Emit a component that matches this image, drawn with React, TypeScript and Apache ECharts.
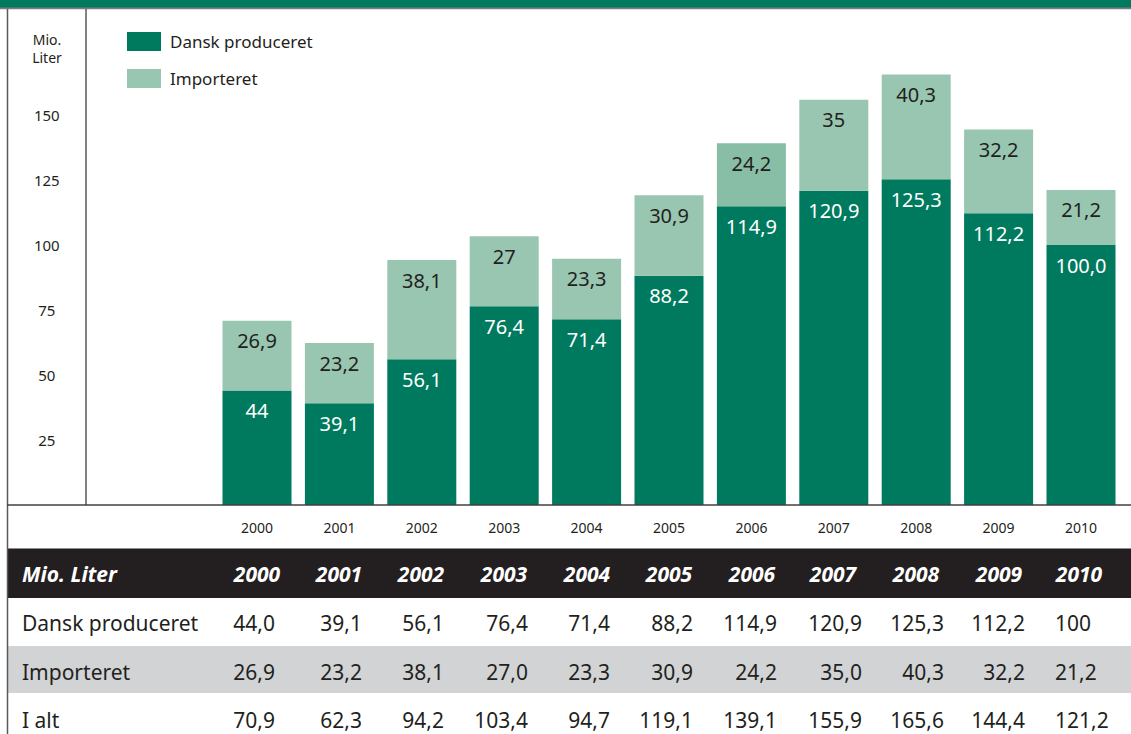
import React, { useEffect, useRef } from "react";
import * as echarts from "echarts";

const years = ["2000", "2001", "2002", "2003", "2004", "2005", "2006", "2007", "2008", "2009", "2010"];
const danskValues = [44, 39.1, 56.1, 76.4, 71.4, 88.2, 114.9, 120.9, 125.3, 112.2, 100];
const importValues = [26.9, 23.2, 38.1, 27, 23.3, 30.9, 24.2, 35, 40.3, 32.2, 21.2];
const danskLabels = ["44", "39,1", "56,1", "76,4", "71,4", "88,2", "114,9", "120,9", "125,3", "112,2", "100,0"];
const importLabels = ["26,9", "23,2", "38,1", "27", "23,3", "30,9", "24,2", "35", "40,3", "32,2", "21,2"];

const tableTitle = "Mio. Liter";
const rowNames = ["Dansk produceret", "Importeret", "I alt"];
const tableDansk = ["44,0", "39,1", "56,1", "76,4", "71,4", "88,2", "114,9", "120,9", "125,3", "112,2", "100"];
const tableImport = ["26,9", "23,2", "38,1", "27,0", "23,3", "30,9", "24,2", "35,0", "40,3", "32,2", "21,2"];
const tableTotal = ["70,9", "62,3", "94,2", "103,4", "94,7", "119,1", "139,1", "155,9", "165,6", "144,4", "121,2"];

// layout constants
const headerCenters = [257, 339, 421, 504, 587, 669, 752, 833, 916, 999, 1079];
const valueRight = [275, 362, 444, 528, 610, 693, 777, 862, 944, 1025];
const lastColLeft = 1055;
const rowY = [623, 672, 720];

const DARK = "#007a5e";
const LIGHT = "#99c6b1";
const LIGHT2 = "#87bea5";
const INK = "#231f20";
const FONT = "Noto Sans";

function txt(x: number, y: number, text: string, opts: any = {}) {
  const align = opts.align || "left";
  return {
    type: "text",
    x,
    y,
    z: 20,
    style: {
      text,
      fill: opts.fill || INK,
      fontSize: opts.fontSize || 21,
      fontFamily: FONT,
      fontWeight: opts.fontWeight || "normal",
      fontStyle: opts.fontStyle || "normal",
      align,
      textAlign: align,
      verticalAlign: "middle",
      textVerticalAlign: "middle",
      lineHeight: opts.lineHeight,
    },
  };
}

export default function App() {
  const ref = useRef<HTMLDivElement>(null);
  useEffect(() => {
    document.body.style.margin = "0";
    if (!ref.current) return;
    const chart = echarts.init(ref.current, undefined, { renderer: "svg" });

    const graphics: any[] = [
      { type: "rect", z: 5, shape: { x: 0, y: 0, width: 1131, height: 7.5 }, style: { fill: DARK } },
      { type: "rect", z: 5, shape: { x: 0, y: 7.5, width: 1131, height: 1.3 }, style: { fill: "#1f2e29" } },
      { type: "rect", z: 5, shape: { x: 0, y: 8.8, width: 1131, height: 1 }, style: { fill: "#d4d6d5" } },
      // table header and grey row
      { type: "rect", z: 5, shape: { x: 8, y: 548, width: 1123, height: 1.2 }, style: { fill: "#8a8c8e" } },
      { type: "rect", z: 5, shape: { x: 8, y: 549, width: 1123, height: 49 }, style: { fill: "#231f20" } },
      { type: "rect", z: 5, shape: { x: 8, y: 646, width: 1123, height: 47 }, style: { fill: "#d1d3d4" } },
      // frame lines
      { type: "line", z: 10, shape: { x1: 7.5, y1: 9, x2: 7.5, y2: 734 }, style: { stroke: "#58595b", lineWidth: 1.5 } },
      { type: "line", z: 10, shape: { x1: 86, y1: 9, x2: 86, y2: 505 }, style: { stroke: "#58595b", lineWidth: 1.5 } },
      { type: "line", z: 10, shape: { x1: 7, y1: 505, x2: 1131, y2: 505 }, style: { stroke: "#404142", lineWidth: 1.5 } },
      // y axis title
      txt(47, 39, "Mio.", { fontSize: 14, align: "center", lineHeight: 15 }),
      txt(47, 57, "Liter", { fontSize: 14, align: "center", lineHeight: 15 }),
      // table header
      txt(22, 574, tableTitle, { fill: "#ffffff", fontWeight: "bold", fontStyle: "italic", fontSize: 21 }),
    ];
    years.forEach((y, i) => {
      graphics.push(txt(headerCenters[i], 574, y, { fill: "#ffffff", fontWeight: "bold", fontStyle: "italic", fontSize: 21, align: "center" }));
    });
    const rows = [tableDansk, tableImport, tableTotal];
    rows.forEach((row, r) => {
      graphics.push(txt(22, rowY[r], rowNames[r], { fontSize: 21 }));
      row.forEach((v, i) => {
        if (i < valueRight.length) {
          graphics.push(txt(valueRight[i], rowY[r], v, { fontSize: 21, align: "right" }));
        } else {
          graphics.push(txt(lastColLeft, rowY[r], v, { fontSize: 21, align: "left" }));
        }
      });
    });

    chart.setOption({
      animation: false,
      textStyle: { fontFamily: FONT },
      grid: { left: 215.8, right: 8.8, top: 11, bottom: 229, containLabel: false },
      legend: {
        orient: "vertical",
        left: 127,
        top: 32,
        itemWidth: 34,
        itemHeight: 19,
        itemGap: 18,
        icon: "rect",
        padding: 0,
        textStyle: { fontSize: 17, color: INK, fontFamily: FONT, padding: [0, 0, 0, 4] },
        data: ["Dansk produceret", "Importeret"],
      },
      xAxis: {
        type: "category",
        data: years,
        axisLine: { show: false },
        axisTick: { show: false },
        axisLabel: { fontSize: 14, color: INK, margin: 15, fontFamily: FONT },
      },
      yAxis: {
        type: "value",
        min: 0,
        max: 190,
        interval: 25,
        splitLine: { show: false },
        axisLine: { show: false },
        axisTick: { show: false },
        axisLabel: {
          fontSize: 15,
          color: INK,
          align: "center",
          margin: 169,
          fontFamily: FONT,
          formatter: (v: number) => (v === 0 || v > 150 ? "" : String(v)),
        },
      },
      series: [
        {
          name: "Dansk produceret",
          type: "bar",
          stack: "total",
          barWidth: 69,
          itemStyle: { color: DARK },
          data: danskValues,
          label: {
            show: true,
            position: "insideTop",
            distance: 10,
            color: "#ffffff",
            fontSize: 20,
            fontFamily: FONT,
            formatter: (p: any) => danskLabels[p.dataIndex],
          },
        },
        {
          name: "Importeret",
          type: "bar",
          stack: "total",
          barWidth: 69,
          itemStyle: { color: LIGHT },
          data: importValues.map((v, i) => (i === 6 ? { value: v, itemStyle: { color: LIGHT2 } } : v)),
          label: {
            show: true,
            position: "insideTop",
            distance: 10,
            color: INK,
            fontSize: 20,
            fontFamily: FONT,
            formatter: (p: any) => importLabels[p.dataIndex],
          },
        },
      ],
      graphic: { elements: graphics },
    });
    return () => chart.dispose();
  }, []);
  return <div ref={ref} style={{ width: 1131, height: 734 }} />;
}
